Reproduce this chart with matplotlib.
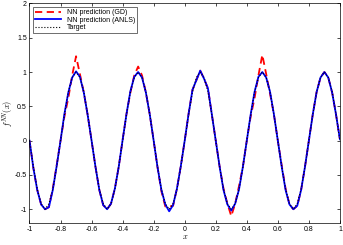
import matplotlib
matplotlib.use('Agg')
import matplotlib.pyplot as plt

plt.rcParams['font.family'] = ['Liberation Sans', 'DejaVu Sans']
plt.rcParams['axes.unicode_minus'] = False
plt.rcParams['mathtext.fontset'] = 'cm'

# sample points, step 0.025
x = [-1.0, -0.975, -0.95, -0.925, -0.9, -0.875, -0.85, -0.825, -0.8, -0.775, -0.75, -0.725, -0.7, -0.675, -0.65, -0.625,
     -0.6, -0.575, -0.55, -0.525, -0.5, -0.475, -0.45, -0.425, -0.4, -0.375, -0.35, -0.325, -0.3, -0.275, -0.25, -0.225,
     -0.2, -0.175, -0.15, -0.125, -0.1, -0.075, -0.05, -0.025, 0.0, 0.025, 0.05, 0.075, 0.1, 0.125, 0.15, 0.175,
     0.2, 0.225, 0.25, 0.275, 0.3, 0.325, 0.35, 0.375, 0.4, 0.425, 0.45, 0.475, 0.5, 0.525, 0.55, 0.575,
     0.6, 0.625, 0.65, 0.675, 0.7, 0.725, 0.75, 0.775, 0.8, 0.825, 0.85, 0.875, 0.9, 0.925, 0.95, 0.975, 1.0]

target = [0.00, -0.38, -0.71, -0.92, -1.00, -0.92, -0.71, -0.38, 0.00, 0.38, 0.71, 0.92, 1.00, 0.92, 0.71, 0.38,
          0.00, -0.38, -0.71, -0.92, -1.00, -0.92, -0.71, -0.38, 0.00, 0.38, 0.71, 0.92, 1.00, 0.92, 0.71, 0.38,
          0.00, -0.38, -0.71, -0.92, -1.00, -0.92, -0.71, -0.38, 0.00, 0.38, 0.71, 0.92, 1.00, 0.92, 0.71, 0.38,
          0.00, -0.38, -0.71, -0.92, -1.00, -0.92, -0.71, -0.38, 0.00, 0.38, 0.71, 0.92, 1.00, 0.92, 0.71, 0.38,
          0.00, -0.38, -0.71, -0.92, -1.00, -0.92, -0.71, -0.38, 0.00, 0.38, 0.71, 0.92, 1.00, 0.92, 0.71, 0.38,
          0.00]

anls = [0.00, -0.40, -0.72, -0.93, -1.00, -0.97, -0.72, -0.37, 0.00, 0.39, 0.70, 0.92, 1.01, 0.93, 0.70, 0.37,
        0.00, -0.38, -0.72, -0.94, -1.00, -0.92, -0.70, -0.38, 0.01, 0.39, 0.72, 0.93, 1.00, 0.92, 0.70, 0.38,
        0.00, -0.39, -0.72, -0.93, -1.03, -0.94, -0.70, -0.37, 0.00, 0.39, 0.74, 0.88, 1.02, 0.90, 0.76, 0.38,
        0.00, -0.38, -0.72, -0.93, -1.02, -0.92, -0.71, -0.38, 0.00, 0.38, 0.71, 0.93, 1.00, 0.92, 0.71, 0.38,
        0.00, -0.38, -0.72, -0.93, -1.00, -0.95, -0.72, -0.38, 0.00, 0.38, 0.71, 0.92, 1.00, 0.92, 0.70, 0.38,
        0.02]

gd = [0.00, -0.40, -0.72, -0.93, -1.00, -0.97, -0.70, -0.36, 0.00, 0.35, 0.62, 0.95, 1.23, 0.97, 0.70, 0.37,
      0.00, -0.38, -0.72, -0.94, -1.00, -0.92, -0.70, -0.38, 0.01, 0.39, 0.70, 0.95, 1.08, 0.95, 0.70, 0.38,
      0.00, -0.39, -0.74, -0.96, -0.96, -0.95, -0.70, -0.37, 0.00, 0.39, 0.74, 0.88, 1.02, 0.90, 0.76, 0.38,
      0.00, -0.38, -0.70, -0.92, -1.10, -0.92, -0.66, -0.38, 0.00, 0.35, 0.62, 0.95, 1.25, 0.97, 0.68, 0.38,
      0.00, -0.36, -0.70, -0.93, -1.00, -0.95, -0.72, -0.38, 0.00, 0.38, 0.71, 0.92, 1.00, 0.92, 0.70, 0.38,
      0.02]

fig = plt.figure(figsize=(3.43, 2.45), dpi=100)
ax = fig.add_axes([0.086, 0.09, 0.905, 0.896])

ax.plot(x, gd, '--', color='red', lw=1.3, dashes=(4, 2.5), label='NN prediction (GD)')
ax.plot(x, anls, '-', color='blue', lw=1.3, label='NN prediction (ANLS)')
ax.plot(x, target, ':', color='black', lw=0.8, label='Target')

ax.set_xlim(-1, 1)
ax.set_ylim(-1.2, 2)
ax.set_xticks([-1, -0.8, -0.6, -0.4, -0.2, 0, 0.2, 0.4, 0.6, 0.8, 1])
ax.set_xticklabels(['-1', '-0.8', '-0.6', '-0.4', '-0.2', '0', '0.2', '0.4', '0.6', '0.8', '1'])
ax.set_yticks([-1, -0.5, 0, 0.5, 1, 1.5, 2])
ax.set_yticklabels(['-1', '-0.5', '0', '0.5', '1', '1.5', '2'])
ax.tick_params(direction='in', length=2, width=0.5, labelsize=5, top=True, right=True, pad=2)
for s in ax.spines.values():
    s.set_linewidth(0.5)

ax.set_xlabel('$x$', fontsize=6, labelpad=0)
ax.set_ylabel('$f^{NN}(x)$', fontsize=6, labelpad=0)

leg = ax.legend(loc='upper left', fontsize=5, fancybox=False, edgecolor='black',
                handlelength=3.8, borderpad=0.3, labelspacing=0.1, borderaxespad=0.5)
leg.get_frame().set_linewidth(0.5)

fig.savefig('out.png', dpi=100)
